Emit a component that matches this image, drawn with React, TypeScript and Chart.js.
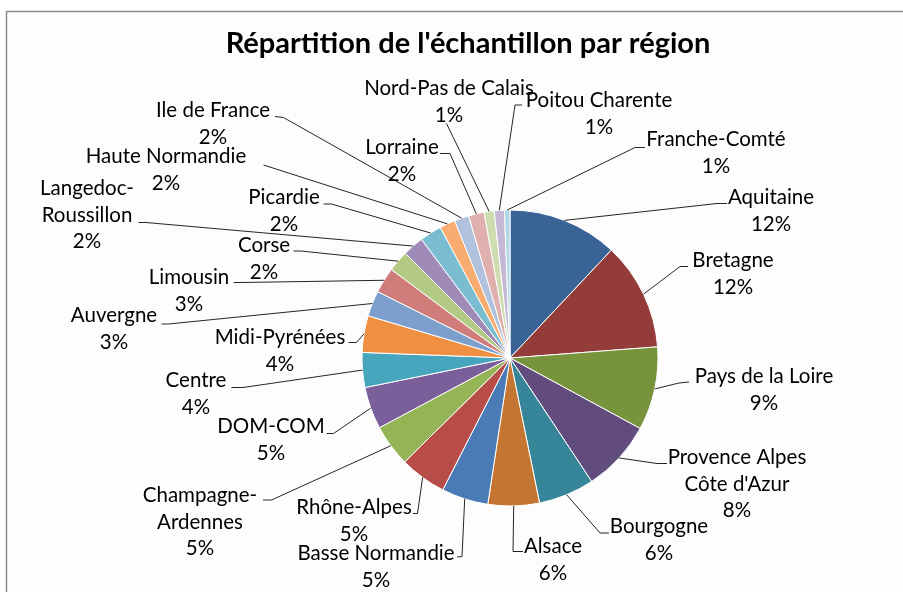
import React, { useEffect, useRef } from "react";
import { Chart, registerables } from "chart.js";

Chart.register(...registerables);

const TITLE = "Répartition de l'échantillon par région";

const categories = [
  "Aquitaine",
  "Bretagne",
  "Pays de la Loire",
  "Provence Alpes\nCôte d'Azur",
  "Bourgogne",
  "Alsace",
  "Basse Normandie",
  "Rhône-Alpes",
  "Champagne-\nArdennes",
  "DOM-COM",
  "Centre",
  "Midi-Pyrénées",
  "Auvergne",
  "Limousin",
  "Corse",
  "Langedoc-\nRoussillon",
  "Picardie",
  "Haute Normandie",
  "Ile de France",
  "Lorraine",
  "Nord-Pas de Calais",
  "Poitou Charente",
  "Franche-Comté",
];

const shares = [
  12.0, 11.8, 9.1, 7.8, 6.1, 5.6, 5.1, 5.1, 4.6, 4.6, 3.8, 4.0, 2.8, 2.8, 2.3,
  2.3, 2.4, 1.7, 1.6, 1.7, 1.1, 1.1, 0.6,
];

const sliceColors = [
  "#3B6496", "#943C3A", "#77933C", "#624C7D", "#378599", "#C47532",
  "#4A7BB6", "#B84C49", "#94B455", "#7A5F9B", "#47A5BE", "#EE8F41",
  "#7D9FCE", "#CF7C7A", "#B2CA82", "#9F8AB8", "#7ABCD0", "#F9AC70",
  "#B0C2DE", "#E0B0AE", "#CDDDB0", "#C4B8D4", "#AED8E4",
];

// label layout: text centre x, first baseline y, elbow point, tick end point
const labelLayout = [
  { tx: 771, ty: 204, ex: 717, ey: 203.5, kx: 727, ky: 203.5 },
  { tx: 733, ty: 267, ex: 680, ey: 266.5, kx: 688, ky: 266.5 },
  { tx: 764, ty: 383, ex: 679, ey: 383, kx: 689, ky: 382 },
  { tx: 737, ty: 464, ex: 657, ey: 463.5, kx: 667, ky: 463.5 },
  { tx: 659, ty: 533, ex: 600, ey: 533, kx: 609, ky: 533 },
  { tx: 553, ty: 553, ex: 513, ey: 551.5, kx: 523, ky: 551.5 },
  { tx: 376, ty: 560, ex: 462, ey: 556.5, kx: 457, ky: 557 },
  { tx: 354, ty: 514, ex: 417.5, ey: 513.5, kx: 413, ky: 513.5 },
  { tx: 200, ty: 502, ex: 271.5, ey: 500, kx: 263, ky: 500 },
  { tx: 271, ty: 433, ex: 333.5, ey: 433.5, kx: 326.5, ky: 433.5 },
  { tx: 196, ty: 387, ex: 243, ey: 387.5, kx: 231.5, ky: 387.5 },
  { tx: 280, ty: 344, ex: 356.5, ey: 342.5, kx: 348.5, ky: 342.5 },
  { tx: 114, ty: 322, ex: 168.5, ey: 324, kx: 161.5, ky: 324 },
  { tx: 189, ty: 284, ex: 241, ey: 282.5, kx: 233.5, ky: 282.5 },
  { tx: 264, ty: 252, ex: 301, ey: 251, kx: 293.5, ky: 251 },
  { tx: 87, ty: 195, ex: 146, ey: 222.5, kx: 138.5, ky: 222.5 },
  { tx: 284, ty: 204, ex: 331.5, ey: 204, kx: 323.5, ky: 204 },
  { tx: 166, ty: 163, ex: 263.5, ey: 165, kx: 263.5, ky: 165 },
  { tx: 213, ty: 117, ex: 283.5, ey: 117.5, kx: 275, ky: 116.5 },
  { tx: 402, ty: 154, ex: 450, ey: 153.5, kx: 440, ky: 153.5 },
  { tx: 449, ty: 95, ex: 446.5, ey: 123.5, kx: 446.5, ky: 123.5 },
  { tx: 599, ty: 107, ex: 515, ey: 105, kx: 522, ky: 105 },
  { tx: 716, ty: 146, ex: 635, ey: 147.5, kx: 645, ky: 147.5 },
];

const FONT_FAMILY = "Lato, 'Noto Sans', sans-serif";
const LABEL_SIZE = 20.5;
const LINE_H = 26.7;

const decorPlugin = {
  id: "decor",
  beforeDraw(chart: any) {
    const ctx = chart.ctx;
    ctx.save();
    ctx.fillStyle = "#ffffff";
    ctx.fillRect(0, 0, chart.width, chart.height);
    ctx.fillStyle = "#fdfdfd";
    ctx.fillRect(7, 12, chart.width, chart.height);
    ctx.strokeStyle = "#8c8c8c";
    ctx.lineWidth = 1.5;
    ctx.strokeRect(6.5, 11.5, chart.width + 20, chart.height + 20);
    ctx.restore();
  },
  afterDatasetsDraw(chart: any) {
    const ctx = chart.ctx;
    const meta = chart.getDatasetMeta(0);
    const total = shares.reduce((a, b) => a + b, 0);
    ctx.save();
    // leader lines
    ctx.strokeStyle = "#262626";
    ctx.lineWidth = 1;
    meta.data.forEach((arc: any, i: number) => {
      const p = arc.getProps(["x", "y", "startAngle", "endAngle", "outerRadius"], true);
      const mid = (p.startAngle + p.endAngle) / 2;
      const sx = p.x + Math.cos(mid) * p.outerRadius;
      const sy = p.y + Math.sin(mid) * p.outerRadius;
      const L = labelLayout[i];
      ctx.beginPath();
      ctx.moveTo(sx, sy);
      ctx.lineTo(L.ex, L.ey);
      ctx.lineTo(L.kx, L.ky);
      ctx.stroke();
    });
    // labels
    ctx.fillStyle = "#000000";
    ctx.textAlign = "center";
    ctx.textBaseline = "alphabetic";
    ctx.font = `${LABEL_SIZE}px ${FONT_FAMILY}`;
    meta.data.forEach((_arc: any, i: number) => {
      const L = labelLayout[i];
      const pct = Math.round((shares[i] * 100) / total) + "%";
      const lines = categories[i].split("\n").concat(pct);
      lines.forEach((t, k) => ctx.fillText(t, L.tx, L.ty + k * LINE_H));
    });
    // title
    ctx.font = `bold 29px ${FONT_FAMILY}`;
    ctx.fillText(TITLE, 468, 53);
    ctx.restore();
  },
};

export default function App() {
  const ref = useRef<HTMLCanvasElement>(null);
  useEffect(() => {
    if (!ref.current) return;
    const chart = new Chart(ref.current, {
      type: "pie",
      data: {
        labels: categories,
        datasets: [
          {
            data: shares,
            backgroundColor: sliceColors,
            borderColor: "#ffffff",
            borderWidth: 1,
          },
        ],
      },
      options: {
        responsive: false,
        animation: false,
        layout: { padding: { left: 361.5, right: 244.5, top: 209.5, bottom: 85.5 } },
        plugins: {
          legend: { display: false },
          tooltip: { enabled: false },
          title: { display: false },
        },
      },
      plugins: [decorPlugin],
    });
    return () => chart.destroy();
  }, []);
  return (
    <div style={{ position: "fixed", left: 0, top: 0, width: 903, height: 592 }}>
      <canvas ref={ref} width={903} height={592} style={{ display: "block" }} />
    </div>
  );
}
